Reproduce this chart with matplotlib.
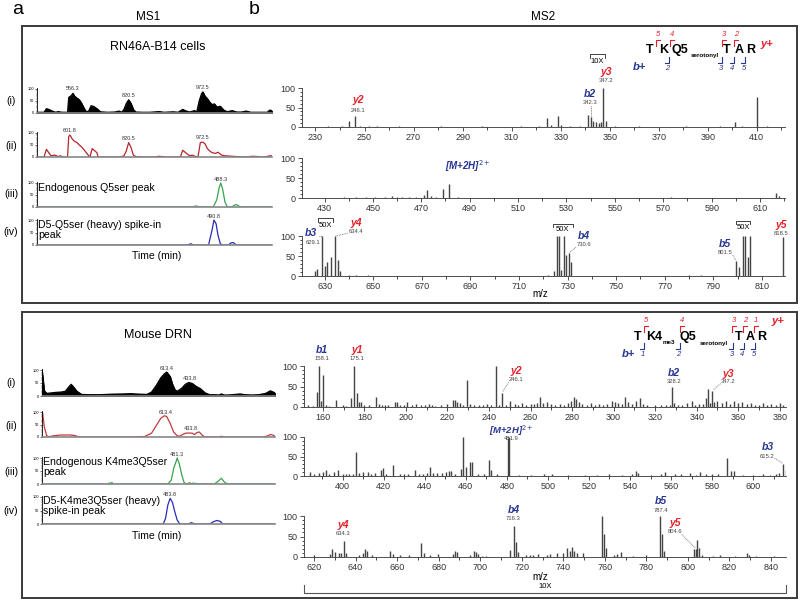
import numpy as np
import matplotlib.pyplot as plt
from matplotlib.lines import Line2D
from matplotlib.patches import Rectangle

plt.rcParams['font.family'] = ['Liberation Sans', 'DejaVu Sans']

W, H = 800, 600

# ---------------- MS1 chromatograms (time 0-100, relative abundance) ----------------
# RN46A-B14 cells
rn_i_t = [0, 3, 4, 5, 6.5, 8, 9, 10, 11, 13, 13.5, 14.5, 15.3, 16, 17, 18, 19, 20, 21, 22, 23, 24,
          25.5, 27, 30, 33, 35, 36, 37, 38, 39, 40, 41, 42, 45, 48, 52, 54, 58, 60, 62, 63.5, 65, 67,
          68, 69, 70, 70.6, 71.5, 72.5, 73.5, 74.5, 75.5, 76.5, 78, 79.5, 81, 83, 85, 87, 89, 91, 95,
          98, 99, 100]
rn_i_y = [3, 3, 18, 15, 8, 3, 6, 4, 3, 3, 65, 72, 82, 70, 62, 55, 40, 20, 5, 8, 30, 28,
          18, 5, 3, 4, 8, 3, 15, 40, 55, 40, 15, 4, 3, 3, 6, 3, 5, 3, 15, 8, 4, 10,
          5, 50, 80, 88, 70, 60, 45, 35, 38, 25, 28, 12, 5, 10, 4, 4, 8, 3, 3,
          3, 12, 10]
rn_ii_t = [0, 3, 4, 5, 6, 7.5, 9, 10, 11, 13, 13.5, 14, 15, 16, 17, 18, 19, 20, 21, 22, 22.5, 23.5,
           25.5, 26, 30, 34, 36, 37, 38, 39, 40, 41, 42, 45, 50, 52, 55, 61, 62, 64, 65, 66, 67.5,
           68.5, 69.5, 70.5, 71.5, 72.5, 73.5, 74.5, 76, 77, 78.5, 80, 83, 88, 92, 97, 99, 100]
rn_ii_y = [0, 0, 32, 18, 5, 8, 2, 5, 0, 0, 85, 92, 75, 65, 60, 50, 42, 30, 18, 5, 0, 35,
           18, 0, 0, 0, 2, 5, 25, 60, 40, 8, 2, 0, 0, 3, 0, 0, 28, 12, 5, 8, 2,
           0, 60, 62, 55, 35, 25, 18, 15, 20, 8, 5, 3, 0, 3, 0, 5, 5]
rn_iii_t = [0, 66, 67, 68, 69, 75, 76.5, 77.5, 78.2, 79, 80, 81, 83, 84, 85, 86, 87, 100]
rn_iii_y = [0, 0, 3, 4, 0, 0, 30, 80, 100, 75, 20, 0, 0, 8, 10, 3, 0, 0]
rn_iv_t = [0, 64, 65.5, 66.5, 73, 74.5, 75.3, 76.2, 77, 78, 79, 81.5, 82.5, 83.5, 84.5, 85.5, 100]
rn_iv_y = [0, 0, 5, 0, 0, 60, 100, 85, 40, 5, 0, 0, 8, 10, 2, 0, 0]

# Mouse DRN
drn_i_t = [0, 0.5, 1, 2, 4, 6, 8, 10, 11.5, 12.5, 13.5, 15, 17, 20, 25, 30, 35, 38, 42, 45, 47, 49,
           51, 52.5, 53.5, 55, 56, 57, 58, 60, 61.5, 63, 64.5, 66, 68, 70, 72, 74, 76, 77, 78, 80,
           83, 85, 87, 90, 93, 96, 98, 100]
drn_i_y = [100, 60, 20, 10, 12, 14, 15, 18, 35, 45, 35, 18, 6, 5, 5, 7, 8, 9, 7, 6, 15, 40,
           70, 85, 92, 75, 45, 25, 18, 30, 45, 52, 48, 38, 28, 12, 5, 5, 4, 8, 4, 4,
           6, 8, 5, 4, 5, 10, 20, 12]
drn_ii_t = [0, 0.3, 1, 2, 3, 5, 8, 12, 14, 16, 20, 30, 40, 44, 47, 49, 51, 52.5, 53.5, 55, 56.5,
            58, 59, 60, 61.5, 63, 64.5, 65.5, 66.5, 67.5, 69, 70, 76, 77, 78, 85, 90, 95, 97, 98,
            99, 100]
drn_ii_y = [100, 95, 40, 5, 1, 5, 8, 8, 6, 0, 0, 0, 0, 2, 15, 45, 75, 85, 82, 55, 20,
            5, 3, 8, 15, 16, 15, 10, 18, 20, 5, 0, 0, 3, 0, 0, 0, 0, 5, 10,
            8, 3]
drn_iii_t = [0, 28, 29, 29.5, 30, 30.5, 54, 55.5, 56.5, 57.5, 58, 59, 60, 61, 62, 63.5, 64, 65,
             65.5, 66, 66.5, 74, 75.5, 77, 78.5, 80, 100]
drn_iii_y = [0, 0, 4, 2, 6, 0, 0, 15, 60, 85, 100, 75, 35, 5, 0, 5, 0, 4,
             0, 3, 0, 0, 10, 22, 5, 0, 0]
drn_iv_t = [0, 52, 53, 54, 55, 56, 57, 58, 59, 60, 63, 64, 65, 66, 72, 73.5, 75, 76.5, 77.5, 100]
drn_iv_y = [0, 0, 20, 70, 95, 80, 45, 15, 2, 0, 0, 5, 2, 0, 0, 8, 13, 10, 0, 0]

# ---------------- MS2 spectra (m/z, relative intensity) ----------------
tk_a_mz = [227, 231, 235, 238, 241, 243.5, 246.1, 248, 252, 255, 259, 264, 270, 275, 281, 287, 292,
           298, 303, 309, 314, 318, 321, 324.5, 326, 329, 330, 334, 338, 341.3, 342.3, 343.3, 344.5,
           345.5, 346.3, 347.2, 348.3, 352, 356, 362, 367, 374, 381, 388, 395, 401, 404, 410, 414, 418]
tk_a_int = [1, 1, 1.5, 1, 1.5, 15, 27, 2, 1.5, 2, 1, 1.5, 1, 1, 1.5, 1, 1,
            1.5, 1, 1, 1.5, 1, 2, 23, 5, 27, 4, 2, 2, 32, 25, 15, 12,
            10, 12, 100, 15, 1.5, 1, 1.5, 1, 1, 1.5, 1, 1.5, 14, 2, 78, 1.5, 1]
tk_b_mz = [425, 432, 438, 443, 447, 451, 455, 458, 460, 462, 465, 468, 471, 472.5, 474, 476, 479,
           481.5, 485, 490, 496, 503, 510, 518, 526, 535, 544, 552, 560, 568, 573, 580, 588, 596,
           603, 610, 616.5, 618]
tk_b_int = [1, 1, 2, 2, 2, 2.5, 3, 5, 3, 3, 2, 2, 8, 20, 6, 2, 23,
            35, 1.5, 1, 1, 1, 1, 1, 1, 1, 1, 1, 1, 1, 2, 1, 1, 1,
            1, 1, 13, 6]
tk_c_mz = [623, 626, 627, 629.1, 630, 631, 632.5, 634.4, 635.5, 636.5, 640, 643, 648, 655, 662, 670,
           680, 690, 700, 710, 718, 722, 724.5, 725.5, 726.5, 727.5, 728.5, 729.5, 730.6, 731.5, 735,
           742, 750, 760, 770, 780, 785, 790, 795, 799.5, 800.5, 802.3, 803, 804.2, 805, 808, 812,
           818.5]
tk_c_int = [1, 12, 18, 100, 25, 35, 48, 100, 40, 12, 2, 3, 1.5, 1, 1, 1,
            1, 1, 1, 1, 1, 2, 12, 100, 100, 15, 100, 52, 58, 35, 1,
            1, 1, 1, 1, 2, 2, 1, 1, 38, 22, 100, 100, 48, 100, 1, 1,
            98]

me3_a_mz = [153, 155, 157, 158.1, 159, 160, 161.5, 163, 166.5, 169.5, 171, 173.5, 175.1, 176.5, 177.5,
            178.5, 180, 182, 185.5, 187, 188.5, 190, 191.5, 194.5, 195.5, 197, 199, 200.5, 203, 205,
            207, 209, 211, 212.5, 214, 217, 220, 222.5, 223.5, 224.5, 226, 227.5, 229.5, 231, 233,
            235, 237, 239, 241, 243.5, 245, 246.1, 248, 250, 252.5, 254, 256, 258, 260, 261.5, 263,
            264.5, 266, 268, 270, 272, 274, 276, 278, 279.5, 281, 282, 283.5, 285, 287, 289, 291,
            293, 295, 297, 299, 300.5, 302, 304, 305.5, 307, 309, 311, 312.5, 314, 316, 320, 323,
            325, 327.2, 328.2, 329.2, 331, 333, 335.5, 337.5, 339, 341, 343, 344.5, 345.5, 346.5,
            347.2, 348.5, 350, 352, 354, 356, 358, 360, 362, 364, 366, 368, 370, 372, 374, 376, 378,
            380, 381.5]
me3_a_int = [5, 3, 37, 100, 15, 77, 5, 3, 17, 5, 3, 22, 100, 35, 12,
             12, 5, 4, 25, 8, 6, 4, 4, 12, 12, 5, 4, 12, 5, 8,
             5, 4, 7, 5, 3, 4, 8, 17, 17, 12, 10, 5, 65, 8, 5,
             6, 4, 8, 6, 100, 5, 35, 6, 15, 8, 6, 10, 5, 8, 8, 10,
             25, 10, 12, 8, 5, 7, 5, 10, 15, 25, 20, 12, 8, 5, 10, 6,
             8, 5, 8, 15, 12, 10, 8, 25, 12, 8, 15, 22, 8, 5, 5, 4,
             4, 5, 50, 10, 4, 5, 10, 15, 6, 8, 8, 22, 45, 10,
             40, 12, 15, 10, 15, 8, 15, 10, 12, 8, 10, 6, 4, 10, 6, 8, 5,
             10, 6]
me3_b_mz = [384, 386, 388.5, 390.5, 392, 393.5, 396, 398, 400, 401.5, 403, 405, 406.6, 408, 410,
            412.5, 414, 416, 418.5, 419.5, 421, 424.5, 428, 430, 432, 435.5, 437, 439, 441, 442.5,
            444, 446, 448.5, 450.5, 452, 453, 455, 457.5, 458.8, 460, 462.3, 463, 466, 469, 471.3,
            472.5, 475, 480.5, 481.1, 486, 492, 498, 502, 510, 518, 524, 530, 536, 541, 542.8, 544,
            550, 555, 557, 562, 565, 569, 572, 574, 577, 580, 583, 587.5, 589, 590.5, 595, 600, 605,
            608, 611, 612.5, 614.5, 616]
me3_b_int = [10, 5, 8, 10, 15, 5, 10, 15, 5, 5, 5, 5, 62, 8, 10,
             10, 5, 8, 15, 20, 5, 28, 6, 5, 4, 15, 5, 5, 8, 22,
             8, 8, 8, 10, 12, 12, 6, 18, 100, 22, 37, 35, 4, 4, 40,
             15, 4, 97, 100, 3, 3, 4, 5, 3, 3, 3, 4, 3, 5, 12, 8,
             3, 6, 10, 4, 5, 8, 3, 10, 4, 4, 4, 45, 12, 12, 3, 3, 4,
             3, 5, 8, 30, 15]
me3_c_mz = [620, 627.7, 628.8, 630, 632, 633.2, 634.3, 635.5, 641.5, 643.5, 644.5, 645.5, 648, 656.6,
            658, 661.5, 665.5, 671.5, 673, 676, 679.5, 687, 688, 689, 695, 697, 698, 699, 701, 703,
            714.5, 716.3, 717.2, 718, 722, 724, 725.5, 728, 732, 733.5, 737, 740, 742, 743, 744.2,
            745, 746.5, 749.5, 758.5, 759.5, 760.5, 764.5, 766, 768, 773.5, 780, 786.5, 787.4, 788.5,
            803, 803.8, 804.6, 805.5, 807, 812, 815.5, 822.5, 828.5, 829.5, 833, 841.5]
me3_c_int = [5, 8, 20, 12, 10, 10, 40, 10, 5, 10, 20, 15, 5, 15,
             8, 5, 5, 35, 10, 5, 8, 8, 15, 12, 5, 15, 12, 8, 3, 3,
             18, 75, 37, 12, 5, 5, 5, 8, 5, 8, 10, 10, 22, 15, 25,
             15, 10, 10, 100, 57, 22, 5, 8, 12, 3, 5, 100, 55, 15,
             20, 20, 42, 22, 5, 3, 5, 3, 10, 5, 3, 3]

RED = '#e4202a'
NAVY = '#263592'
BAR = '#444444'

fig = plt.figure(figsize=(8, 6), dpi=100)


def fx(x):
    return x / W


def fy(y):
    return 1 - y / H


def ftext(x, y, s, **kw):
    kw.setdefault('ha', 'center')
    kw.setdefault('va', 'center')
    fig.text(fx(x), fy(y), s, **kw)


def fline(xs, ys, color='k', lw=0.8):
    fig.add_artist(Line2D([fx(v) for v in xs], [fy(v) for v in ys], color=color, lw=lw))


def px_axes(x0, x1, y100, y0, ymax):
    top = y0 - (y0 - y100) * ymax / 100.0
    return fig.add_axes([fx(x0), fy(y0), (x1 - x0) / W, (y0 - top) / H])


# panel boxes
for (x0, y0, x1, y1) in [(22, 26, 797, 303), (22, 312, 797, 598)]:
    fig.add_artist(Rectangle((fx(x0), fy(y1)), (x1 - x0) / W, (y1 - y0) / H,
                             fill=False, ec='#3a3a3a', lw=1.4))

ftext(18, 9, 'a', fontsize=14)
ftext(254, 9, 'b', fontsize=14)
ftext(148, 17, 'MS1', fontsize=8.5)
ftext(543, 17, 'MS2', fontsize=8.5)


# ---------------- MS1 ----------------
def chrom(x0, x1, y100, y0, t, y, color, fill=False):
    ax = px_axes(x0, x1, y100, y0, 105)
    if fill:
        ax.fill_between(t, y, color=color, lw=0.6)
    ax.plot(t, y, color=color, lw=0.9)
    ax.set_xlim(0, 100)
    ax.set_ylim(0, 105)
    for s in ['top', 'right']:
        ax.spines[s].set_visible(False)
    ax.spines['bottom'].set_color('#888888')
    ax.spines['bottom'].set_linewidth(1.2)
    ax.spines['left'].set_linewidth(0.6)
    ax.set_xticks([])
    ax.set_yticks([0, 50, 100])
    ax.set_yticks(np.arange(0, 101, 10), minor=True)
    ax.tick_params(axis='y', labelsize=2.8, length=1.5, width=0.4, pad=0.8)
    ax.tick_params(axis='y', which='minor', length=0.8, width=0.3)
    ax.patch.set_alpha(0)
    return ax


def peak_label(ax, t, y, s):
    ax.text(t, y, s, fontsize=4, ha='center', va='bottom', color='#333333', clip_on=False)


# top MS1
ftext(158, 47, 'RN46A-B14 cells', fontsize=9)
a1 = chrom(37, 272, 89, 113, rn_i_t, rn_i_y, 'black', fill=True)
peak_label(a1, 15.3, 92, '556.3')
peak_label(a1, 39, 62, '820.5')
peak_label(a1, 70.6, 96, '972.5')
a2 = chrom(37, 272, 133, 157, rn_ii_t, rn_ii_y, '#b3262c')
peak_label(a2, 14, 98, '601.8')
peak_label(a2, 39, 67, '820.5')
peak_label(a2, 70.5, 70, '972.5')
a3 = chrom(37, 272, 183, 207, rn_iii_t, rn_iii_y, '#35a54c')
peak_label(a3, 78.2, 104, '488.3')
a3.text(0.5, 102, 'Endogenous Q5ser peak', fontsize=7.6, va='top', ha='left')
a4 = chrom(37, 272, 220, 245, rn_iv_t, rn_iv_y, '#2b2bb5')
peak_label(a4, 75.3, 104, '490.8')
a4.text(0.5, 102, 'D5-Q5ser (heavy) spike-in\npeak', fontsize=7.6, va='top', ha='left',
        linespacing=1.0)
for lab, y in [('(i)', 101), ('(ii)', 146), ('(iii)', 194), ('(iv)', 232)]:
    ftext(11, y, lab, fontsize=7.5)
ftext(157, 256, 'Time (min)', fontsize=7.5)

# bottom MS1
ftext(158, 335, 'Mouse DRN', fontsize=9)
b1 = chrom(42, 275, 370, 396, drn_i_t, drn_i_y, 'black', fill=True)
peak_label(b1, 53.5, 96, '613.4')
peak_label(b1, 63.5, 56, '433.8')
b2 = chrom(42, 275, 412, 437, drn_ii_t, drn_ii_y, '#c0393d')
peak_label(b2, 53, 90, '613.4')
peak_label(b2, 64, 24, '433.8')
b3 = chrom(42, 275, 458, 484, drn_iii_t, drn_iii_y, '#35a54c')
peak_label(b3, 58, 104, '481.3')
b3.text(0.5, 102, 'Endogenous K4me3Q5ser\npeak', fontsize=7.6, va='top', ha='left',
        linespacing=1.0)
b4 = chrom(42, 275, 497, 524, drn_iv_t, drn_iv_y, '#2b2bb5')
peak_label(b4, 55, 100, '483.8')
b4.text(0.5, 102, 'D5-K4me3Q5ser (heavy)\nspike-in peak', fontsize=7.6, va='top', ha='left',
        linespacing=1.0)
for lab, y in [('(i)', 383), ('(ii)', 426), ('(iii)', 472), ('(iv)', 511)]:
    ftext(11, y, lab, fontsize=7.5)
ftext(157, 536, 'Time (min)', fontsize=7.5)


# ---------------- MS2 ----------------
def spectrum(x0, x1, y100, y0, xlim, first, last, mz, inten):
    ax = px_axes(x0, x1, y100, y0, 100)
    ax.vlines(mz, 0, inten, color=BAR, lw=1.0)
    ax.set_xlim(xlim)
    ax.set_ylim(0, 100)
    for s in ['top', 'right']:
        ax.spines[s].set_visible(False)
    for s in ['left', 'bottom']:
        ax.spines[s].set_linewidth(0.6)
        ax.spines[s].set_color('#333333')
    ax.set_xticks(np.arange(first, last + 1, 20))
    minor = np.arange(first - 10, last + 20, 10)
    ax.set_xticks(minor[(minor > xlim[0]) & (minor < xlim[1])], minor=True)
    ax.set_yticks([0, 50, 100])
    ax.set_yticks(np.arange(0, 101, 10), minor=True)
    ax.tick_params(labelsize=6.5, length=3, width=0.6, pad=1.5, colors='#333333')
    ax.tick_params(which='minor', length=1.8, width=0.5)
    ax.patch.set_alpha(0)
    return ax


def ion(ax, name, x, y, color, val=None, vx=None, vy=None):
    ax.text(x, y, name, fontsize=7.5, color=color, fontweight='bold', fontstyle='italic',
            ha='center', va='center', clip_on=False)
    if val is not None:
        ax.text(vx if vx is not None else x, vy, val, fontsize=4.2, color='#444444',
                ha='center', va='center', clip_on=False)


def leader(ax, xs, ys):
    ax.plot(xs, ys, ls=(0, (1, 1)), color='#666666', lw=0.6, clip_on=False)


def bracket(ax, xa, xb, y, h, label, ly):
    ax.plot([xa, xa, xb, xb], [y - h, y, y, y - h], color='#222222', lw=0.6, clip_on=False)
    ax.text((xa + xb) / 2, ly, label, fontsize=5.5, ha='center', va='center', clip_on=False)


# top MS2
s1 = spectrum(302, 785, 88, 127, (224.5, 421.5), 230, 410, tk_a_mz, tk_a_int)
ion(s1, 'y2', 247.5, 68, RED, '246.1', 247.5, 42)
ion(s1, 'b2', 342.0, 84, NAVY, '342.3', 342.0, 62)
leader(s1, [342.3, 342.3], [55, 26])
ion(s1, 'y3', 348.6, 140, RED, '347.2', 348.6, 119)
bracket(s1, 341.8, 347.9, 186, 8, '10X', 168)

s2 = spectrum(302, 785, 158, 198, (420.7, 620.3), 430, 610, tk_b_mz, tk_b_int)
s2.text(489.4, 80, r'[M+2H]$^{2+}$', fontsize=7, color=NAVY, fontweight='bold',
        fontstyle='italic', ha='center', va='center')

s3 = spectrum(302, 785, 236, 276, (620.7, 819.5), 630, 810, tk_c_mz, tk_c_int)
ion(s3, 'b3', 624.2, 107, NAVY, '629.1', 625.3, 84)
leader(s3, [627.5, 629.1], [100, 100])
ion(s3, 'y4', 642.8, 132, RED, '634.4', 642.8, 112)
leader(s3, [639.5, 634.6], [107, 100])
bracket(s3, 627.2, 633.3, 144, 8, '50X', 126)
bracket(s3, 723.9, 732.3, 131, 8, '50X', 116)
ion(s3, 'b4', 736.7, 100, NAVY, '730.6', 736.7, 78)
leader(s3, [733.5, 730.8], [72, 58])
bracket(s3, 799.2, 805.3, 138, 8, '50X', 122)
ion(s3, 'b5', 794.7, 81, NAVY, '801.5', 794.7, 58)
leader(s3, [798, 799.5], [52, 38])
ion(s3, 'y5', 817.8, 127, RED, '818.5', 817.8, 107)
ftext(540, 294, 'm/z', fontsize=7)

# bottom MS2
m1 = spectrum(304, 786, 366, 407, (150.9, 383), 160, 380, me3_a_mz, me3_a_int)
ion(m1, 'b1', 159.7, 139, NAVY, '158.1', 159.7, 118)
ion(m1, 'y1', 176.3, 139, RED, '175.1', 176.3, 118)
ion(m1, 'y2', 253, 87, RED, '246.1', 253, 66)
leader(m1, [249.5, 246.5], [60, 37])
ion(m1, 'b2', 329, 83, NAVY, '328.2', 329, 61)
ion(m1, 'y3', 355, 80, RED, '347.2', 355, 61)
leader(m1, [351.5, 348], [57, 42])

m2 = spectrum(304, 786, 437, 476, (381.2, 616), 400, 600, me3_b_mz, me3_b_int)
m2.text(482, 117, r'[M+2H]$^{2+}$', fontsize=6.8, color=NAVY, fontweight='bold',
        fontstyle='italic', ha='center', va='center', clip_on=False)
m2.text(482, 96, '481.9', fontsize=4.2, color='#444444', ha='center', va='center', clip_on=False)
ion(m2, 'b3', 607, 75, NAVY, '615.2', 607, 50)
leader(m2, [610.5, 614.5], [46, 32])

m3 = spectrum(304, 786, 516, 557, (615.2, 847.2), 620, 840, me3_c_mz, me3_c_int)
ion(m3, 'y4', 634, 77, RED, '634.3', 634, 57)
ion(m3, 'b4', 716, 115, NAVY, '716.3', 716, 93)
ion(m3, 'b5', 787, 137, NAVY, '787.4', 787, 113)
ion(m3, 'y5', 793.7, 83, RED, '804.6', 793.7, 61)
leader(m3, [797, 803.5], [55, 22])
ftext(540, 577, 'm/z', fontsize=7)
fline([304, 304, 786, 786], [585, 593, 593, 585], color='#555555', lw=0.8)
ftext(545, 586, '10X', fontsize=5.5)


# ---------------- peptide sequence maps ----------------
def pep_marks(reds, blues, ytop, ybot, rnum, bnum):
    for x, n in reds:
        fline([x, x, x + 4], [ytop + 6, ytop, ytop], color=RED, lw=0.8)
        ftext(x + 2, rnum, n, fontsize=5.5, color=RED, fontstyle='italic')
    for x, n in blues:
        fline([x - 4, x, x], [ybot, ybot, ybot - 6], color=NAVY, lw=0.8)
        ftext(x - 1.5, bnum, n, fontsize=5.5, color=NAVY, fontstyle='italic')


for s, x in [('T', 650), ('K', 664), ('Q5', 680), ('T', 727), ('A', 739), ('R', 751)]:
    ftext(x, 50, s, fontsize=9, fontweight='bold')
ftext(705, 56, 'serotonyl', fontsize=4.5, fontweight='bold')
pep_marks([(656, '5'), (670, '4'), (722, '3'), (734, '2')],
          [(669, '2'), (722, '3'), (734, '4'), (745, '5')], 40, 63, 35, 69)
ftext(639, 67, 'b+', fontsize=8, fontweight='bold', fontstyle='italic', color=NAVY)
ftext(767, 44, 'y+', fontsize=8, fontweight='bold', fontstyle='italic', color=RED)

for s, x in [('T', 638), ('K4', 654), ('Q5', 688), ('T', 739), ('A', 750), ('R', 762)]:
    ftext(x, 337, s, fontsize=9, fontweight='bold')
ftext(669, 343, 'me3', fontsize=4.5, fontweight='bold')
ftext(714, 343, 'serotonyl', fontsize=4.5, fontweight='bold')
pep_marks([(644, '5'), (680, '4'), (732, '3'), (743, '2'), (754, '1')],
          [(644, '1'), (680, '2'), (733, '3'), (744, '4'), (755, '5')], 326, 349, 320, 355)
ftext(628, 354, 'b+', fontsize=8, fontweight='bold', fontstyle='italic', color=NAVY)
ftext(778, 321, 'y+', fontsize=8, fontweight='bold', fontstyle='italic', color=RED)

fig.savefig('out.png', dpi=100)
